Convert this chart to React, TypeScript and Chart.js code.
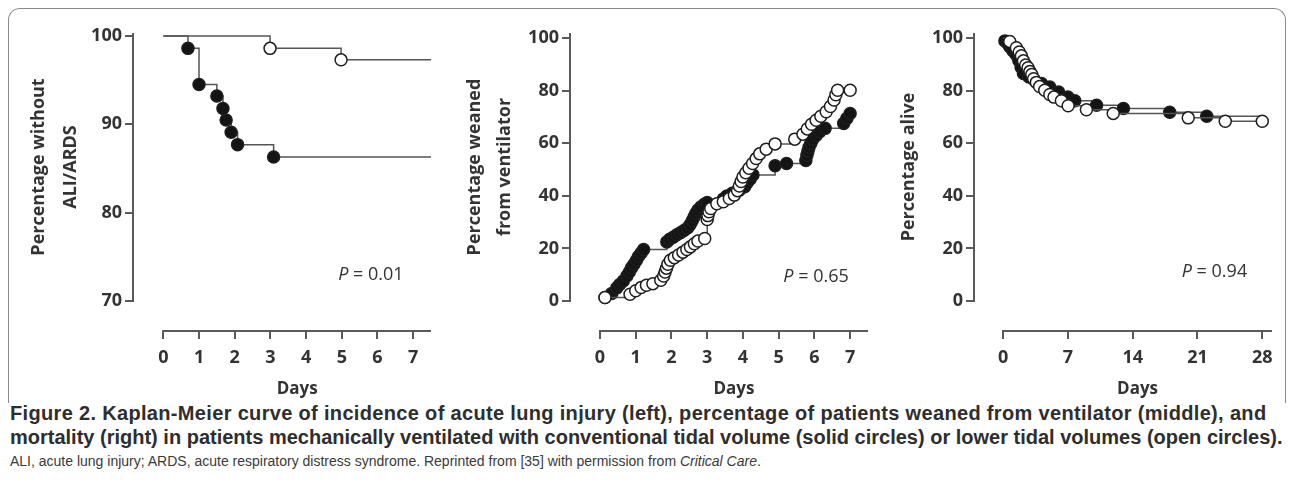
import React, { useEffect, useRef } from "react";
import { Chart, registerables } from "chart.js";

Chart.register(...registerables);

// ---------- Panel 1: percentage without ALI/ARDS ----------
const P1_X_TICKS = [0, 1, 2, 3, 4, 5, 6, 7];
const P1_Y_TICKS = [70, 80, 90, 100];
const P1_SOLID_DAYS = [0.69, 1.0, 1.5, 1.67, 1.76, 1.9, 2.08, 3.09];
const P1_SOLID_PCT = [98.6, 94.5, 93.2, 91.8, 90.5, 89.1, 87.7, 86.3];
const P1_OPEN_DAYS = [2.99, 4.98];
const P1_OPEN_PCT = [98.6, 97.3];
const P1_START_PCT = 100;
const P1_END_DAY = 7.5;
const P1_P_VALUE = "0.01";

// ---------- Panel 2: percentage weaned from ventilator ----------
const P2_X_TICKS = [0, 1, 2, 3, 4, 5, 6, 7];
const P2_Y_TICKS = [0, 20, 40, 60, 80, 100];
const P2_SOLID_DAYS = [
  0.14, 0.33, 0.47, 0.55, 0.65, 0.75, 0.82, 0.88, 0.95, 1.02, 1.08, 1.15, 1.22,
  1.87, 1.95, 2.05, 2.15, 2.25, 2.35, 2.45, 2.52, 2.58, 2.63, 2.68, 2.74, 2.82, 2.92, 3.0,
  3.45, 3.55, 3.7, 3.9, 4.05, 4.12, 4.2, 4.28,
  4.9, 5.22,
  5.76, 5.79, 5.82, 5.85, 5.9, 5.95, 6.05, 6.15, 6.3,
  6.82, 6.91, 7.0,
];
const P2_SOLID_PCT = [
  1.3, 2.9, 5.0, 6.3, 7.6, 9.5, 11.0, 12.6, 14.0, 15.5, 17.0, 18.3, 19.6,
  22.5, 23.5, 24.3, 25.2, 26.0, 26.8, 27.8, 29.0, 30.5, 32.0, 33.3, 34.6, 35.8, 36.8, 37.5,
  38.8, 40.0, 41.0, 42.2, 43.5, 45.0, 46.3, 48.0,
  51.5, 52.3,
  53.5, 55.5, 57.0, 58.5, 60.0, 61.5, 63.0, 64.4, 65.7,
  67.6, 69.5, 71.4,
];
const P2_OPEN_DAYS = [
  0.14, 0.84, 1.0, 1.15, 1.3, 1.48, 1.7, 1.78, 1.82, 1.86, 1.9, 1.97, 2.08, 2.2, 2.32,
  2.43, 2.53, 2.64, 2.74, 2.93,
  3.0, 3.02, 3.05, 3.1, 3.27, 3.45, 3.62, 3.76, 3.85, 3.9, 3.95, 4.0, 4.08, 4.17, 4.27,
  4.37, 4.47, 4.65, 4.9,
  5.45, 5.68, 5.8, 5.92, 6.05, 6.18, 6.33, 6.45, 6.55, 6.6, 6.65, 7.0,
];
const P2_OPEN_PCT = [
  1.3, 2.6, 3.9, 5.1, 6.0, 6.6, 7.9, 9.5, 11.0, 12.5, 14.0, 15.5, 16.5, 17.5, 18.6,
  19.6, 20.6, 21.8, 22.8, 23.8,
  31.0, 32.5, 34.0, 35.2, 37.0, 37.8, 39.0, 40.3, 42.0, 43.8, 45.5, 47.2, 48.8, 50.5, 52.3,
  54.2, 56.0, 57.8, 59.8,
  61.6, 63.5, 65.5, 67.3, 68.8, 70.3, 72.0, 74.0, 76.5, 78.5, 80.2, 80.2,
];
const P2_P_VALUE = "0.65";

// ---------- Panel 3: percentage alive ----------
const P3_X_TICKS = [0, 7, 14, 21, 28];
const P3_Y_TICKS = [0, 20, 40, 60, 80, 100];
const P3_SOLID_DAYS = [
  0.2, 0.5, 0.75, 1.05, 1.4, 1.7, 1.95, 2.2, 2.8, 3.4, 4.15, 5.05, 6.0, 7.0, 7.75,
  10.1, 13.0, 18.0, 22.0,
];
const P3_SOLID_PCT = [
  99.0, 98.0, 96.7, 95.3, 93.8, 91.5, 89.0, 86.6, 85.3, 84.0, 82.8, 81.4, 79.5, 77.6, 76.2,
  74.5, 73.3, 71.8, 70.3,
];
const P3_OPEN_DAYS = [
  0.72, 1.44, 1.75, 1.98, 2.2, 2.45, 2.7, 2.9, 3.1, 3.3, 3.6, 3.95, 4.5, 5.05, 5.5,
  6.3, 7.03, 9.0, 11.9, 20.0, 24.0, 28.0,
];
const P3_OPEN_PCT = [
  98.8, 96.4, 94.8, 93.3, 91.4, 89.8, 88.8, 87.3, 86.2, 84.6, 83.2, 81.6, 80.2, 78.6, 77.6,
  76.2, 74.3, 72.8, 71.4, 69.7, 68.4, 68.4,
];
const P3_START_PCT = 100;
const P3_END_DAY = 28;
const P3_P_VALUE = "0.94";

// ---------- styling ----------
const AXIS_COLOR = "#5a5a5a";
const LINE_COLOR = "#555555";
const TEXT_COLOR = "#333333";
const FONT = "'Open Sans', 'DejaVu Sans', sans-serif";

type Series = { pts: { x: number; y: number }[]; marker: boolean[] };

function buildSeries(days: number[], pct: number[], startPct: number | null, endDay: number | null): Series {
  const pts = days.map((d, i) => ({ x: d, y: pct[i] }));
  const marker = pts.map(() => true);
  if (startPct !== null) {
    pts.unshift({ x: 0, y: startPct });
    marker.unshift(false);
  }
  const last = pts[pts.length - 1];
  if (endDay !== null && endDay > last.x) {
    pts.push({ x: endDay, y: last.y });
    marker.push(false);
  }
  return { pts, marker };
}

type PanelCfg = {
  left: number;
  width: number;
  height: number;
  plotLeft: number;
  plotRight: number;
  plotTop: number;
  plotBottom: number;
  xMin: number;
  xMax: number;
  yMin: number;
  yMax: number;
  xTicks: number[];
  yTicks: number[];
  solid: Series;
  open: Series;
  yTitle: string[];
  yTitleX: number[];
  pAt: [number, number];
  pValue: string;
};

const PANELS: PanelCfg[] = [
  {
    left: 0, width: 440, height: 400,
    plotLeft: 133, plotRight: 431, plotTop: 33, plotBottom: 331,
    xMin: -0.85, xMax: 7.5, yMin: 66.6, yMax: 100.34,
    xTicks: P1_X_TICKS, yTicks: P1_Y_TICKS,
    solid: buildSeries(P1_SOLID_DAYS, P1_SOLID_PCT, P1_START_PCT, P1_END_DAY),
    open: buildSeries(P1_OPEN_DAYS, P1_OPEN_PCT, P1_START_PCT, P1_END_DAY),
    yTitle: ["Percentage without", "ALI/ARDS"], yTitleX: [39, 71],
    pAt: [4.9, 72.9], pValue: P1_P_VALUE,
  },
  {
    left: 440, width: 440, height: 400,
    plotLeft: 570, plotRight: 868, plotTop: 33, plotBottom: 331,
    xMin: -0.84, xMax: 7.5, yMin: -11.42, yMax: 102.0,
    xTicks: P2_X_TICKS, yTicks: P2_Y_TICKS,
    solid: buildSeries(P2_SOLID_DAYS, P2_SOLID_PCT, null, null),
    open: buildSeries(P2_OPEN_DAYS, P2_OPEN_PCT, null, null),
    yTitle: ["Percentage weaned", "from ventilator"], yTitleX: [475, 505],
    pAt: [5.13, 9.1], pValue: P2_P_VALUE,
  },
  {
    left: 880, width: 410, height: 400,
    plotLeft: 974, plotRight: 1272, plotTop: 33, plotBottom: 331,
    xMin: -3.14, xMax: 29.05, yMin: -11.42, yMax: 102.0,
    xTicks: P3_X_TICKS, yTicks: P3_Y_TICKS,
    solid: buildSeries(P3_SOLID_DAYS, P3_SOLID_PCT, P3_START_PCT, P3_END_DAY),
    open: buildSeries(P3_OPEN_DAYS, P3_OPEN_PCT, P3_START_PCT, P3_END_DAY),
    yTitle: ["Percentage alive"], yTitleX: [908.5],
    pAt: [19.3, 11.0], pValue: P3_P_VALUE,
  },
];

function makeDecor(p: PanelCfg) {
  return {
    id: "decor",
    beforeDatasetsDraw(chart: any) {
      const { ctx, chartArea } = chart;
      const xs = chart.scales.x;
      const ys = chart.scales.y;
      ctx.save();
      ctx.strokeStyle = AXIS_COLOR;
      ctx.lineWidth = 2;
      const yBottomPx = ys.getPixelForValue(p.yTicks[0]);
      ctx.beginPath();
      ctx.moveTo(chartArea.left, chartArea.top);
      ctx.lineTo(chartArea.left, yBottomPx + 1);
      ctx.stroke();
      const x0 = xs.getPixelForValue(p.xTicks[0]);
      ctx.beginPath();
      ctx.moveTo(x0 - 1, chartArea.bottom);
      ctx.lineTo(chartArea.right, chartArea.bottom);
      ctx.stroke();
      ctx.restore();
    },
    afterDraw(chart: any) {
      const { ctx, chartArea } = chart;
      const xs = chart.scales.x;
      const ys = chart.scales.y;
      ctx.save();
      ctx.fillStyle = TEXT_COLOR;
      // y title
      const yc = (chartArea.top + ys.getPixelForValue(p.yTicks[0])) / 2;
      ctx.font = `bold 18px ${FONT}`;
      ctx.textAlign = "center";
      ctx.textBaseline = "middle";
      p.yTitle.forEach((line, i) => {
        ctx.save();
        ctx.translate(p.yTitleX[i] - p.left, yc);
        ctx.rotate(-Math.PI / 2);
        ctx.fillText(line, 0, 0);
        ctx.restore();
      });
      // x title
      const x0 = xs.getPixelForValue(p.xTicks[0]);
      ctx.font = `bold 17px ${FONT}`;
      ctx.fillText("Days", (x0 + chartArea.right) / 2, 389);
      // P value
      const px = xs.getPixelForValue(p.pAt[0]);
      const py = ys.getPixelForValue(p.pAt[1]);
      ctx.textAlign = "left";
      ctx.font = `italic 18px ${FONT}`;
      ctx.fillText("P", px, py);
      const w = ctx.measureText("P").width;
      ctx.font = `18px ${FONT}`;
      ctx.fillText(" = " + p.pValue, px + w, py);
      ctx.restore();
    },
  };
}

function datasetFor(s: Series, filled: boolean) {
  return {
    data: s.pts,
    stepped: "before" as const,
    borderColor: LINE_COLOR,
    borderWidth: 1.5,
    fill: false,
    clip: false as any,
    pointRadius: (c: any) => (s.marker[c.dataIndex] ? 6 : 0),
    pointHoverRadius: (c: any) => (s.marker[c.dataIndex] ? 6 : 0),
    pointBackgroundColor: filled ? "#141414" : "#ffffff",
    pointBorderColor: "#1e1e1e",
    pointBorderWidth: 1.5,
  };
}

function Panel({ p }: { p: PanelCfg }) {
  const ref = useRef<HTMLCanvasElement>(null);
  useEffect(() => {
    const yWidth = p.plotLeft - p.left;
    const xHeight = p.height - p.plotBottom;
    const chart = new Chart(ref.current as HTMLCanvasElement, {
      type: "line",
      data: {
        datasets: [datasetFor(p.open, false) as any, datasetFor(p.solid, true) as any],
      },
      options: {
        animation: false,
        responsive: false,
        events: [],
        layout: {
          padding: { left: 0, top: p.plotTop, right: p.left + p.width - p.plotRight, bottom: 0 },
        },
        plugins: { legend: { display: false }, tooltip: { enabled: false } },
        scales: {
          x: {
            type: "linear",
            min: p.xMin,
            max: p.xMax,
            border: { display: false },
            grid: {
              drawOnChartArea: false,
              drawTicks: true,
              tickLength: 8,
              color: AXIS_COLOR,
              lineWidth: 2,
            },
            ticks: {
              color: TEXT_COLOR,
              padding: 8,
              font: { family: FONT, weight: "bold", size: 18 },
              maxRotation: 0,
              autoSkip: false,
              callback: (v: any) => String(v),
            },
            afterBuildTicks: (s: any) => {
              s.ticks = p.xTicks.map((value) => ({ value }));
            },
            afterFit: (s: any) => {
              s.height = xHeight;
            },
          },
          y: {
            type: "linear",
            min: p.yMin,
            max: p.yMax,
            border: { display: false },
            grid: {
              drawOnChartArea: false,
              drawTicks: true,
              tickLength: 8,
              color: AXIS_COLOR,
              lineWidth: 2,
            },
            ticks: {
              color: TEXT_COLOR,
              padding: 3,
              font: { family: FONT, weight: "bold", size: 18 },
              autoSkip: false,
              callback: (v: any) => String(v),
            },
            afterBuildTicks: (s: any) => {
              s.ticks = p.yTicks.map((value) => ({ value }));
            },
            afterFit: (s: any) => {
              s.width = yWidth;
            },
          },
        },
      } as any,
      plugins: [makeDecor(p) as any],
    });
    return () => chart.destroy();
  }, []);
  return (
    <canvas
      ref={ref}
      width={p.width}
      height={p.height}
      style={{ position: "absolute", left: p.left, top: 0, width: p.width, height: p.height }}
    />
  );
}

export default function App() {
  const capBold: React.CSSProperties = {
    position: "absolute",
    left: 10,
    whiteSpace: "nowrap",
    fontFamily: "'Liberation Sans Narrow', 'Liberation Sans', sans-serif",
    fontWeight: "bold",
    fontSize: 20,
    lineHeight: "24px",
    color: "#2e2e2e",
  };
  return (
    <div style={{ position: "absolute", left: 0, top: 0, width: 1290, height: 498, background: "#fff", overflow: "hidden" }}>
      <div
        style={{
          position: "absolute",
          left: 8,
          top: 8,
          width: 1278,
          height: 395,
          borderTop: "1.5px solid #8a8a8a",
          borderLeft: "1.5px solid #8a8a8a",
          borderRight: "1.5px solid #8a8a8a",
          borderRadius: "12px 12px 0 0",
          boxSizing: "border-box",
        }}
      />
      {PANELS.map((p, i) => (
        <Panel key={i} p={p} />
      ))}
      <div style={{ ...capBold, top: 401, letterSpacing: "0.33px" }}>
        Figure 2. Kaplan-Meier curve of incidence of acute lung injury (left), percentage of patients weaned from ventilator (middle), and
      </div>
      <div style={{ ...capBold, top: 425 }}>
        mortality (right) in patients mechanically ventilated with conventional tidal volume (solid circles) or lower tidal volumes (open circles).
      </div>
      <div
        style={{
          position: "absolute",
          left: 10,
          top: 449,
          whiteSpace: "nowrap",
          fontFamily: "'Liberation Sans Narrow', 'Liberation Sans', sans-serif",
          fontSize: 14,
          lineHeight: "24px",
          color: "#3a3a3a",
        }}
      >
        ALI, acute lung injury; ARDS, acute respiratory distress syndrome. Reprinted from [35] with permission from{" "}
        <i>Critical Care</i>.
      </div>
    </div>
  );
}
